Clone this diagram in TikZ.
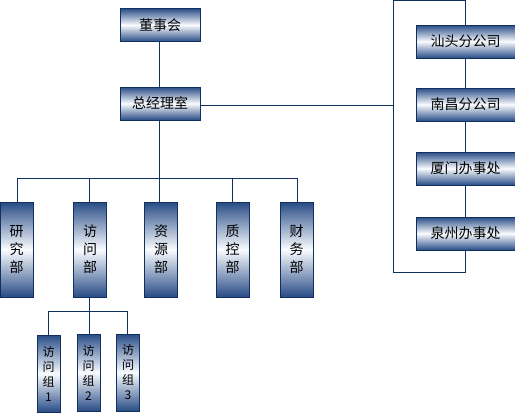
\documentclass[tikz,border=0pt]{standalone}
\usepackage{fontspec}
\newfontfamily\cjk{Noto Sans CJK SC}
\definecolor{edge}{RGB}{16,48,96}
\definecolor{dark}{RGB}{40,76,134}
\definecolor{lite}{RGB}{250,252,255}
\tikzset{
  box/.style={draw=edge, line width=1pt, top color=dark, bottom color=dark, middle color=lite, inner sep=0pt, font=\cjk\fontsize{14}{14}\selectfont, text=black},
  hbox/.style={box, minimum width=80pt, minimum height=33pt},
  rbox/.style={box, minimum width=99pt, minimum height=33pt},
  vbox/.style={box, minimum width=33pt, minimum height=95pt, align=center, font=\cjk\fontsize{14}{18}\selectfont},
  sbox/.style={box, minimum width=23pt, minimum height=77pt, align=center, font=\cjk\fontsize{12}{15}\selectfont},
  link/.style={draw=edge, line width=0.9pt},
}
\begin{document}
\begin{tikzpicture}[x=1pt,y=-1pt]
\useasboundingbox (0,0) rectangle (515,413);
\node[hbox] (dsh) at (160,25) {董事会};
\node[hbox] (zjl) at (160,103.5) {总经理室};
\node[rbox] (st) at (465.5,41.5) {汕头分公司};
\node[rbox] (nc) at (465.5,104.5) {南昌分公司};
\node[rbox] (xm) at (465.5,168.5) {厦门办事处};
\node[rbox] (qz) at (465.5,233.5) {泉州办事处};
\node[vbox] (yj) at (16.5,249.5) {研\\究\\部};
\node[vbox] (fw) at (90,249.5) {访\\问\\部};
\node[vbox] (zy) at (161,249.5) {资\\源\\部};
\node[vbox] (zk) at (232.5,249.5) {质\\控\\部};
\node[vbox] (cw) at (296.5,249.5) {财\\务\\部};
\node[sbox] (g1) at (48.5,373.5) {访\\问\\组\\1};
\node[sbox] (g2) at (88.5,372.5) {访\\问\\组\\2};
\node[sbox] (g3) at (128,372.5) {访\\问\\组\\3};
\coordinate (tl) at (393,0.5);
\coordinate (bl) at (393,272.5);
\coordinate (jn) at (393,105);
\coordinate (bus) at (159,178);
\coordinate (sbus) at (89,311);
% connectors
\draw[link] (dsh.south -| 159,0) -- (zjl.north -| 159,0);
\draw[link] (zjl.east |- jn) -- (jn);
\draw[link] (tl) -- (bl);
\draw[link] (tl) -- (tl -| 465,0) -- (st.north -| 465,0);
\draw[link] (st.south -| 465,0) -- (nc.north -| 465,0);
\draw[link] (nc.south -| 465,0) -- (xm.north -| 465,0);
\draw[link] (xm.south -| 465,0) -- (qz.north -| 465,0);
\draw[link] (qz.south -| 465,0) -- (bl -| 465,0) -- (bl);
\draw[link] (zjl.south -| 159,0) -- (bus);
\draw[link] (yj.north -| 17,0) -- (bus -| 17,0) -- (bus -| 297,0) -- (cw.north -| 297,0);
\draw[link] (bus -| 89,0) -- (fw.north -| 89,0);
\draw[link] (bus) -- (zy.north -| 159,0);
\draw[link] (bus -| 232,0) -- (zk.north -| 232,0);
\draw[link] (fw.south -| 89,0) -- (sbus);
\draw[link] (g1.north -| 48,0) -- (sbus -| 48,0) -- (sbus -| 127,0) -- (g3.north -| 127,0);
\draw[link] (sbus) -- (g2.north -| 89,0);
\end{tikzpicture}
\end{document}
